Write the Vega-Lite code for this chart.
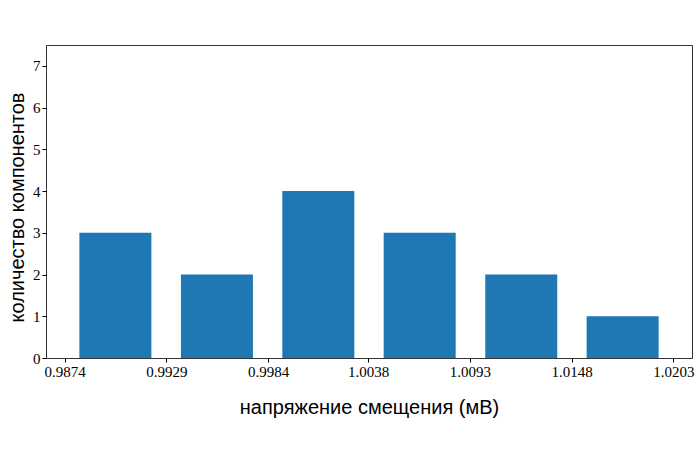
{
  "$schema": "https://vega.github.io/schema/vega-lite/v6.json",
  "width": 646,
  "height": 313,
  "autosize": "none",
  "padding": {"left": 46, "top": 45, "right": 8, "bottom": 92},
  "background": "white",
  "config": {
    "view": {"stroke": "#333333", "strokeWidth": 1},
    "axis": {
      "domain": false,
      "grid": false,
      "ticks": true,
      "tickColor": "#000000",
      "tickSize": 4,
      "tickWidth": 1,
      "labelFont": "Liberation Serif",
      "labelFontSize": 15,
      "labelColor": "#000000",
      "titleFont": "Liberation Sans",
      "titleFontSize": 20,
      "titleFontWeight": "normal",
      "titleColor": "#000000"
    }
  },
  "data": {
    "values": [
      {"center": 0.99014, "count": 3},
      {"center": 0.99563, "count": 2},
      {"center": 1.00111, "count": 4},
      {"center": 1.00659, "count": 3},
      {"center": 1.01208, "count": 2},
      {"center": 1.01756, "count": 1}
    ]
  },
  "mark": {"type": "bar", "size": 72, "color": "#1f77b4"},
  "encoding": {
    "x": {
      "field": "center",
      "type": "quantitative",
      "scale": {"domain": [0.98666, 1.02104], "nice": false, "zero": false},
      "axis": {
        "values": [0.9874, 0.9929, 0.9984, 1.0038, 1.0093, 1.0148, 1.0203],
        "format": ".4f",
        "labelPadding": 2,
        "labelFlush": false,
        "labelOverlap": false,
        "title": "напряжение смещения (мВ)",
        "titleX": 323,
        "titleY": 55,
        "titleAlign": "center",
        "titleBaseline": "alphabetic"
      }
    },
    "y": {
      "field": "count",
      "type": "quantitative",
      "scale": {"domain": [0, 7.5], "nice": false},
      "axis": {
        "values": [0, 1, 2, 3, 4, 5, 6, 7],
        "format": "d",
        "labelPadding": 2,
        "labelFlush": false,
        "labelOverlap": false,
        "title": "количество компонентов",
        "titleX": -23,
        "titleY": 162,
        "titleAngle": -90,
        "titleAlign": "center",
        "titleBaseline": "alphabetic"
      }
    }
  }
}
